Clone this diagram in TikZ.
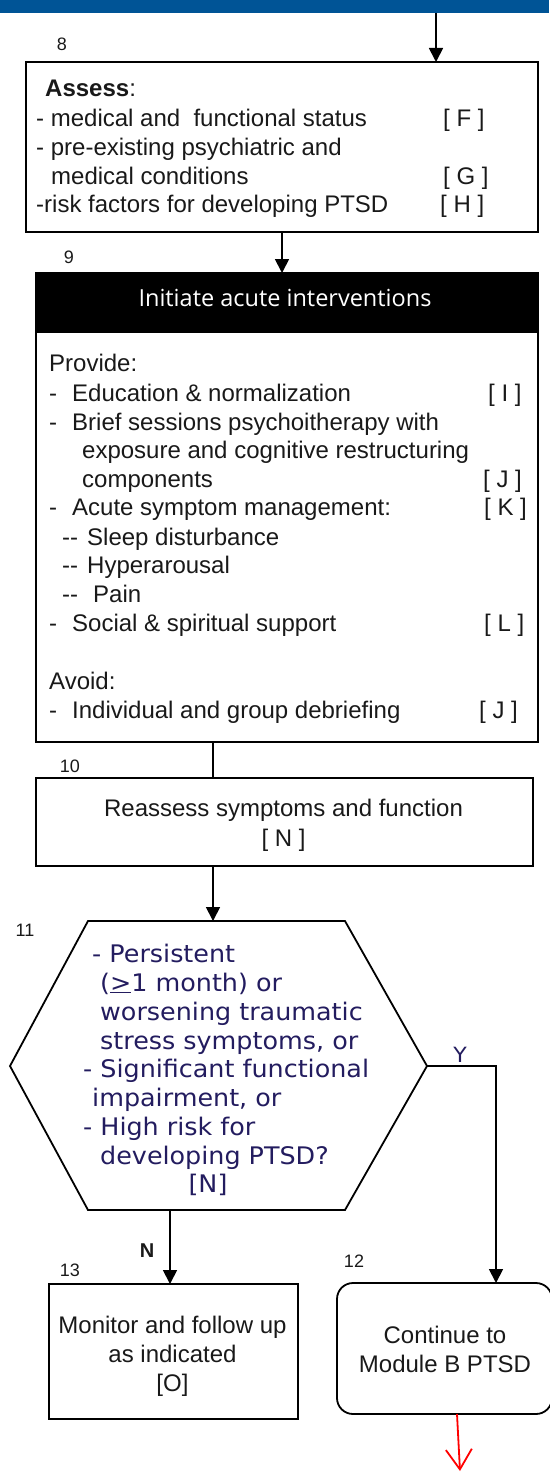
\documentclass[tikz,border=0pt]{standalone}
\usepackage{fontspec}
\setmainfont{Liberation Sans}
\newfontfamily\verd[FakeStretch=1.05]{DejaVu Sans}
\newfontfamily\hdr{Open Sans}
\usetikzlibrary{arrows.meta,calc}
\definecolor{barblue}{RGB}{0,84,150}
\definecolor{hexink}{RGB}{35,28,95}
\definecolor{ink}{RGB}{25,25,25}
\begin{document}
\begin{tikzpicture}[x=1pt,y=-1pt,
  box/.style={draw=black,line width=1.8pt,inner sep=0pt,outer sep=0pt},
  arr/.style={line width=1.8pt,-{Triangle[length=14pt,width=14pt]}},
  conn/.style={line width=1.8pt},
  txt/.style={anchor=base west,inner sep=0pt,text=ink,font=\fontsize{24}{29}\selectfont},
  ctxt/.style={anchor=base,inner sep=0pt,text=ink,font=\fontsize{24}{29}\selectfont},
  htxt/.style={anchor=base west,inner sep=0pt,text=hexink,font=\verd\fontsize{24.2}{29}\selectfont},
  num/.style={inner sep=0pt,text=ink,font=\fontsize{18}{18}\selectfont},
]
\useasboundingbox (0,0) rectangle (549,1472);
\fill[barblue] (0,0) rectangle (549,13);

% ---------- box 8
\node[box,minimum width=512pt,minimum height=170pt] (b8) at (282,147) {};
\node[num] (n8) at (62,44) {8};
\node[txt] (t8a) at (45,96) {\textbf{Assess}:};
\node[txt] (t8b) at (36,126) {- medical and\ \ functional status};
\node[txt] (t8c) at (36,155) {- pre-existing psychiatric and};
\node[txt] (t8d) at (51,184) {medical conditions};
\node[txt] (t8e) at (36,212) {-risk factors for developing PTSD};
\node[txt] (r8f) at (443,126) {[ F ]};
\node[txt] (r8g) at (443,184) {[ G ]};
\node[txt] (r8h) at (440,212) {[ H ]};

% ---------- box 9
\node[box,minimum width=502pt,minimum height=469pt] (b9) at (287,507.5) {};
\node[box,fill=black,minimum width=502pt,minimum height=59pt] (h9) at (287,302.5) {};
\node[inner sep=0pt,text=white,font=\hdr\fontsize{23.5}{24}\selectfont] (h9t) at (285,298) {Initiate acute interventions};
\node[num] (n9) at (69,257) {9};
\node[txt] (t9a) at (49,371) {Provide:};
\node[txt] (t9b) at (49,401) {\makebox[23pt][l]{-}Education \& normalization};
\node[txt] (t9c) at (49,430) {\makebox[23pt][l]{-}Brief sessions psychoitherapy with};
\node[txt] (t9d) at (82,458) {exposure and cognitive restructuring};
\node[txt] (t9e) at (82,487) {components};
\node[txt] (t9f) at (49,515) {\makebox[23pt][l]{-}Acute symptom management:};
\node[txt] (t9g) at (62,545) {\makebox[25pt][l]{-{}-}Sleep disturbance};
\node[txt] (t9h) at (62,573) {\makebox[25pt][l]{-{}-}Hyperarousal};
\node[txt] (t9i) at (62,602) {\makebox[31pt][l]{-{}-}Pain};
\node[txt] (t9j) at (49,631) {\makebox[23pt][l]{-}Social \& spiritual support};
\node[txt] (t9k) at (49,689) {Avoid:};
\node[txt] (t9l) at (49,718) {\makebox[23pt][l]{-}Individual and group debriefing};
\node[txt] (r9i) at (488,401) {[ I ]};
\node[txt] (r9j) at (483,487) {[ J ]};
\node[txt] (r9k) at (484,515) {[ K ]};
\node[txt] (r9l) at (484,631) {[ L ]};
\node[txt] (r9j2) at (479,718) {[ J ]};

% ---------- box 10
\node[box,minimum width=497pt,minimum height=88pt] (b10) at (284.5,822) {};
\node[num] (n10) at (70,766) {10};
\node[ctxt] (t10a) at (283.5,816) {Reassess symptoms and function};
\node[ctxt] (t10b) at (283.5,846) {[ N ]};

% ---------- hexagon 11
\draw[conn,line join=miter] (88,921) -- (345,921) -- (427,1066) -- (345,1210) -- (88,1210) -- (10,1066) -- cycle;
\coordinate (hexT) at (213,921);
\coordinate (hexB) at (170,1210);
\coordinate (hexR) at (427,1066);
\node[num] (n11) at (25,930) {11};
\node[htxt] (h1) at (92,962) {- Persistent};
\node[htxt] (h2) at (100,991) {(\underline{>}1 month) or};
\node[htxt] (h3) at (100,1020) {worsening traumatic};
\node[htxt] (h4) at (100,1049) {stress symptoms, or};
\node[htxt] (h5) at (83,1077) {- Significant functional};
\node[htxt] (h6) at (92,1106) {impairment, or};
\node[htxt] (h7) at (83,1135) {- High risk for};
\node[htxt] (h8) at (100,1164) {developing PTSD?};
\node[htxt,anchor=base] (h9n) at (208,1192) {[N]};

% ---------- box 13
\node[box,minimum width=249pt,minimum height=135pt] (b13) at (173.5,1351.5) {};
\node[num] (n13) at (70,1270) {13};
\node[ctxt] (t13a) at (172.5,1333) {Monitor and follow up};
\node[ctxt] (t13b) at (172.5,1362) {as indicated};
\node[ctxt] (t13c) at (172.5,1391) {[O]};

% ---------- box 12
\node[box,rounded corners=16pt,minimum width=215pt,minimum height=131pt] (b12) at (444.5,1348.5) {};
\node[num] (n12) at (354,1261) {12};
\node[ctxt] (t12a) at (445,1343) {Continue to};
\node[ctxt] (t12b) at (445,1372) {Module B PTSD};

% ---------- connectors
\coordinate (topc) at (436,13);
\draw[arr] (topc) -- (topc |- b8.north);
\draw[arr] (b8.south) -- (b8.south |- b9.north);
\draw[conn] (b9.south -| hexT) -- (b10.north -| hexT);
\draw[arr] (b10.south -| hexT) -- (hexT);
\coordinate (yturn) at (496,1066);
\draw[arr] (hexR) -- (yturn) -- (yturn |- b12.north);
\draw[arr] (hexB) -- (hexB |- b13.north);
\node[inner sep=0pt,text=hexink,font=\verd\fontsize{21}{21}\selectfont] (ylab) at (460,1055) {Y};
\node[inner sep=0pt,text=ink,font=\bfseries\fontsize{20}{20}\selectfont] (nlab) at (147,1251) {N};
\coordinate (redend) at (460,1471);
\draw[red,line width=1.8pt,-{Straight Barb[length=20pt,width=26pt]}] ($(b12.south)+(12.5,0)$) -- (redend);
\end{tikzpicture}
\end{document}
